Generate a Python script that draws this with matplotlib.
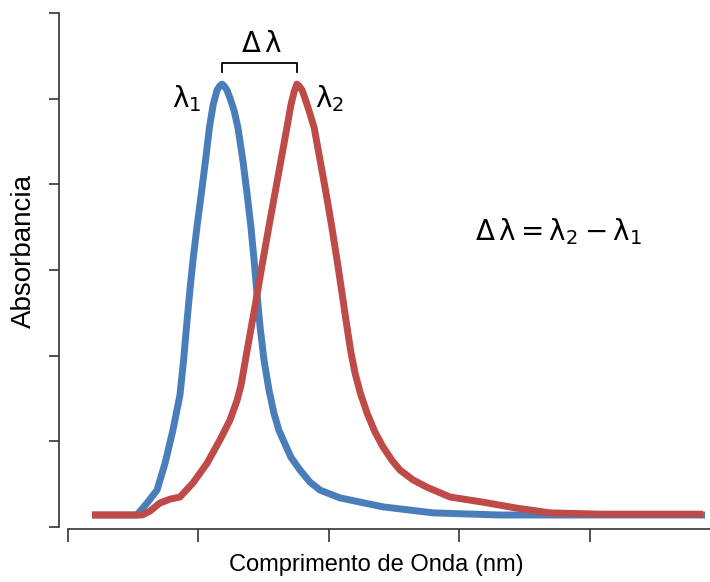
import numpy as np
import matplotlib
matplotlib.use("Agg")
import matplotlib.pyplot as plt

# wavelength (nm) / absorbance
wl_blue = [409.2, 426.4, 430.3, 434.1, 437.2, 440.2, 442.9, 444.3, 445.4, 446.6,
           447.9, 449.4, 451.1, 452.7, 454.2, 455.6, 457.1, 458.2, 459.0, 459.8,
           460.9, 462.1, 463.6, 465.1, 467.0, 468.6, 470.1, 471.3, 472.4, 473.6,
           475.1, 477.0, 478.9, 480.8, 485.4, 488.9, 492.7, 496.6, 504.2, 520.7,
           539.8, 565.5, 644.1]
abs_blue = [0.028, 0.028, 0.056, 0.086, 0.149, 0.226, 0.308, 0.390, 0.467, 0.546,
            0.623, 0.700, 0.779, 0.856, 0.933, 0.985, 1.020, 1.030, 1.034, 1.030,
            1.020, 1.001, 0.973, 0.933, 0.856, 0.779, 0.700, 0.623, 0.546, 0.467,
            0.390, 0.320, 0.266, 0.226, 0.163, 0.133, 0.105, 0.086, 0.068, 0.047,
            0.033, 0.028, 0.028]

wl_red = [409.2, 428.4, 431.4, 435.2, 439.1, 442.9, 447.9, 453.3, 458.2, 462.1,
          464.8, 466.3, 469.0, 471.6, 474.7, 477.0, 479.3, 481.6, 483.9, 485.4,
          486.6, 487.4, 487.7, 488.5, 489.7, 490.8, 492.3, 494.3, 496.6, 498.9,
          501.1, 503.1, 505.0, 506.9, 508.4, 510.0, 511.9, 514.6, 517.6, 520.7,
          524.1, 527.2, 532.2, 537.5, 546.4, 559.0, 572.0, 584.7, 603.8, 643.3]
abs_red = [0.028, 0.028, 0.037, 0.056, 0.065, 0.070, 0.103, 0.149, 0.203, 0.250,
           0.296, 0.331, 0.425, 0.513, 0.623, 0.702, 0.779, 0.856, 0.933, 0.985,
           1.015, 1.029, 1.034, 1.030, 1.020, 1.001, 0.973, 0.933, 0.856, 0.779,
           0.700, 0.623, 0.546, 0.467, 0.408, 0.359, 0.315, 0.266, 0.222, 0.187,
           0.156, 0.133, 0.110, 0.093, 0.070, 0.058, 0.044, 0.033, 0.030, 0.030]

xticks = [400, 450, 500, 550, 600]
yticks = [0, 0.2, 0.4, 0.6, 0.8, 1.0, 1.2]

blue = '#4a7ebb'
red = '#be4b48'
axcol = '#333333'

plt.rcParams['font.family'] = ['Liberation Sans', 'DejaVu Sans']

fig = plt.figure(figsize=(7.1, 5.82), dpi=100)
ax = fig.add_axes([68/710, 1-527/582, 642/710, 514/582])

ax.plot(wl_blue, abs_blue, color=blue, lw=5, solid_joinstyle='round', solid_capstyle='butt')
ax.plot(wl_red, abs_red, color=red, lw=5, solid_joinstyle='round', solid_capstyle='butt')

ax.set_xlim(400, 646)
ax.set_ylim(0, 1.2)
ax.set_xticks(xticks)
ax.set_yticks(yticks)
ax.set_xticklabels([])
ax.set_yticklabels([])

for s in ['top', 'right']:
    ax.spines[s].set_visible(False)
ax.spines['left'].set_position(('outward', 6.5))
ax.spines['bottom'].set_position(('outward', 1.5))
for s in ['left', 'bottom']:
    ax.spines[s].set_color(axcol)
    ax.spines[s].set_linewidth(1.2)
ax.tick_params(axis='y', direction='out', length=7.2, width=1.2, color=axcol)
ax.tick_params(axis='x', direction='out', length=9.4, width=1.2, color=axcol)

ax.set_xlabel('Comprimento de Onda (nm)', fontsize=17)
ax.set_ylabel('Absorbancia', fontsize=20)
ax.xaxis.set_label_coords(0.48, -0.052)
ax.yaxis.set_label_coords(-0.048, 0.536)

# peak positions and the bracket between them
p1 = wl_blue[int(np.argmax(abs_blue))]
p2 = wl_red[int(np.argmax(abs_red))]
ax.plot([p1, p1, p2, p2], [1.062, 1.083, 1.083, 1.062], color='black', lw=1.3, clip_on=False)
ax.text((p1 + p2) / 2 + 1, 1.128, r'$\mathregular{\Delta\,\lambda}$', fontsize=20,
        ha='center', va='center', family='DejaVu Sans')
ax.text(p1 - 8, 1.0, r'$\mathregular{\lambda_1}$', fontsize=20,
        ha='right', va='center', family='DejaVu Sans')
ax.text(p2 + 7, 1.0, r'$\mathregular{\lambda_2}$', fontsize=20,
        ha='left', va='center', family='DejaVu Sans')
ax.text(556, 0.69, r'$\mathregular{\Delta\,\lambda = \lambda_2 - \lambda_1}$', fontsize=20,
        ha='left', va='center', family='DejaVu Sans')

fig.savefig('out.png', dpi=100)
